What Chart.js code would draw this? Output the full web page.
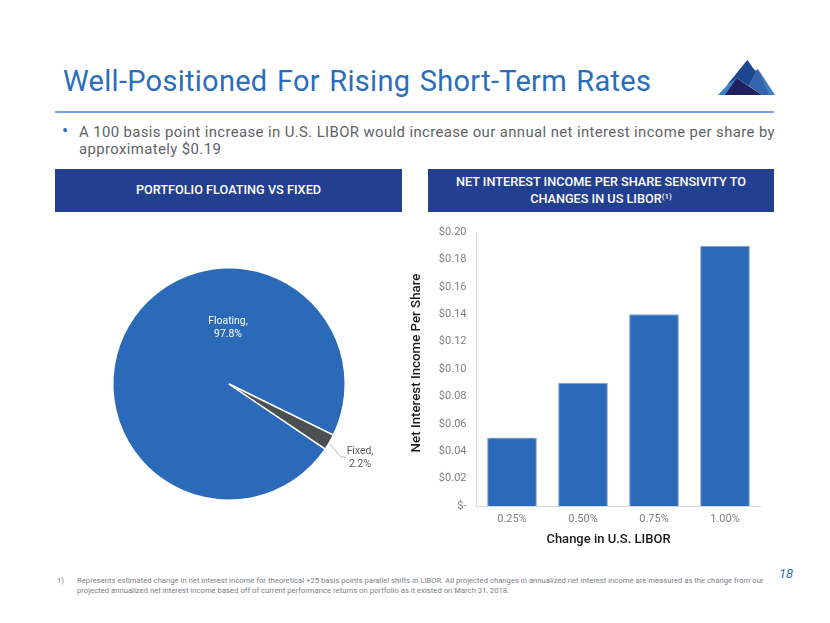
<!DOCTYPE html>
<html><head><meta charset="utf-8">
<script src="https://cdn.jsdelivr.net/npm/chart.js@4"></script>
<style>
html,body{margin:0;padding:0;background:#fff;width:830px;height:623px;overflow:hidden;font-family:Roboto,"Liberation Sans",sans-serif}
.a{position:absolute;white-space:nowrap}
canvas{position:absolute}
.hdr{position:absolute;top:169px;height:43px;background:#233f8f;color:#fff;font-size:12.7px;font-weight:500;line-height:16.5px;display:flex;align-items:center;justify-content:center;text-align:center}
sup{font-size:8px;line-height:0;vertical-align:4px}
</style></head><body>
<div class="a" id="title" style="left:63px;top:63px;font-size:29px;line-height:36px;letter-spacing:.28px;word-spacing:2px;color:#2a6ebb">Well-Positioned For Rising Short-Term Rates</div>
<svg class="a" style="left:0;top:0" width="830" height="100" viewBox="0 0 830 100">
<polygon points="718,95 733,79 737,78 727,95" fill="#3f7fc4"/>
<polygon points="758,69 775,95 768,95 752,72" fill="#3f7fc4"/>
<polygon points="747.3,60 727,85 736.7,78 749,86 756,72" fill="#1c4690"/>
<polygon points="756,70.500 760,73 769,95 762,95 749,86" fill="#3561ad"/>
<polygon points="725,95 736.7,78 762,95" fill="#20205f"/>
</svg>
<div class="a" style="left:55px;top:111px;width:719px;height:2px;background:#6fa5e8"></div>
<div class="a" style="left:62px;top:121px;font-size:18px;line-height:20px;color:#2a6ebb">•</div>
<div class="a" style="left:79px;top:123.5px;font-size:14.9px;line-height:17.6px;letter-spacing:.39px;color:#5f6366">A 100 basis point increase in U.S. LIBOR would increase our annual net interest income per share by<br>approximately $0.19</div>
<div class="hdr" style="left:55px;width:347px"><div>PORTFOLIO FLOATING VS FIXED</div></div>
<div class="hdr" style="left:428px;width:346px"><div>NET INTEREST INCOME PER SHARE SENSIVITY TO<br>CHANGES IN US LIBOR<sup>(1)</sup></div></div>
<canvas id="pie" width="300" height="300" style="left:79px;top:234px;width:300px;height:300px"></canvas>
<canvas id="bar" width="380" height="335" style="left:400px;top:220px;width:380px;height:335px"></canvas>
<div class="a" style="left:57px;top:575.5px;font-size:7.7px;line-height:10px;color:#7c8084">1)</div>
<div class="a" style="left:77px;top:575.5px;font-size:7.7px;line-height:10px;color:#7c8084">Represents estimated change in net interest income for theoretical +25 basis points parallel shifts in LIBOR. All projected changes in annualized net interest income are measured as the change from our<br>projected annualized net interest income based off of current performance returns on portfolio as it existed on March 31, 2018.</div>
<div class="a" style="left:779px;top:566px;font-size:13px;line-height:16px;font-style:italic;color:#2a6ebb">18</div>
<script>
const pieLabels=['Floating','Fixed'];
const pieValues=[97.8,2.2];
const pieColors=['#2a6ab8','#4a4f50'];
const barLabels=['0.25%','0.50%','0.75%','1.00%'];
const barValues=[0.05,0.09,0.14,0.19];
const yTitle='Net Interest Income Per Share';
const xTitle='Change in U.S. LIBOR';
const FONT='Roboto, "Liberation Sans", sans-serif';

const pieText={id:'pieText',afterDraw(c){
  const g=c.ctx,m=c.getDatasetMeta(0).data,a=m[0],b=m[1];
  g.save();g.textAlign='center';g.textBaseline='middle';g.font='10.4px '+FONT;
  g.fillStyle='#ffffff';
  g.fillText(pieLabels[0]+',',a.x-1,a.y-63);g.fillText(pieValues[0]+'%',a.x-1,a.y-50);
  g.fillStyle='#55595c';
  g.fillText(pieLabels[1]+',',b.x+131,b.y+67);g.fillText(pieValues[1]+'%',b.x+131,b.y+80);
  g.strokeStyle='#b8b8b8';g.lineWidth=1;g.beginPath();
  g.moveTo(b.x+101,b.y+60);g.lineTo(b.x+112,b.y+73);g.lineTo(b.x+117,b.y+73);g.stroke();
  g.restore();
}};
new Chart(document.getElementById('pie'),{type:'pie',plugins:[pieText],
 data:{labels:pieLabels,datasets:[{data:pieValues,backgroundColor:pieColors,borderColor:'#fff',borderWidth:1.5}]},
 options:{responsive:false,animation:false,rotation:124,layout:{padding:33},plugins:{legend:{display:false},tooltip:{enabled:false}}}});

const barTitles={id:'barTitles',afterDraw(c){
  const g=c.ctx,s=c.scales;
  g.save();g.fillStyle='#1a1a1a';g.font='500 13px '+FONT;g.textAlign='center';g.textBaseline='middle';
  g.fillText(xTitle,(s.x.left+s.x.right)/2-10,320);
  g.font='500 13.3px '+FONT;
  g.translate(17,(s.y.top+s.y.bottom)/2-6);g.rotate(-Math.PI/2);g.fillText(yTitle,0,0);
  g.restore();
}};
new Chart(document.getElementById('bar'),{type:'bar',plugins:[barTitles],
 data:{labels:barLabels,datasets:[{data:barValues,backgroundColor:'#2a6ab8',borderColor:'#7fa3d0',borderWidth:1,barPercentage:.7,categoryPercentage:1}]},
 options:{responsive:false,animation:false,layout:{padding:{top:12,right:19.5,left:0,bottom:0}},
  plugins:{legend:{display:false},tooltip:{enabled:false}},
  scales:{
   x:{afterFit(s){s.height=49},grid:{display:false,drawTicks:false},border:{color:'#d9d9d9'},
      ticks:{color:'#7f7f7f',font:{size:11,family:FONT},padding:7,maxRotation:0}},
   y:{min:0,max:.2,afterFit(s){s.width=76.5},grid:{display:false,drawTicks:true,tickLength:7},border:{color:'#d9d9d9'},
      ticks:{stepSize:.02,color:'#7f7f7f',font:{size:11,family:FONT},padding:3,
        callback:v=>Math.abs(v)<1e-9?'$-':'$'+v.toFixed(2)}}
  }}});
</script>
</body></html>
